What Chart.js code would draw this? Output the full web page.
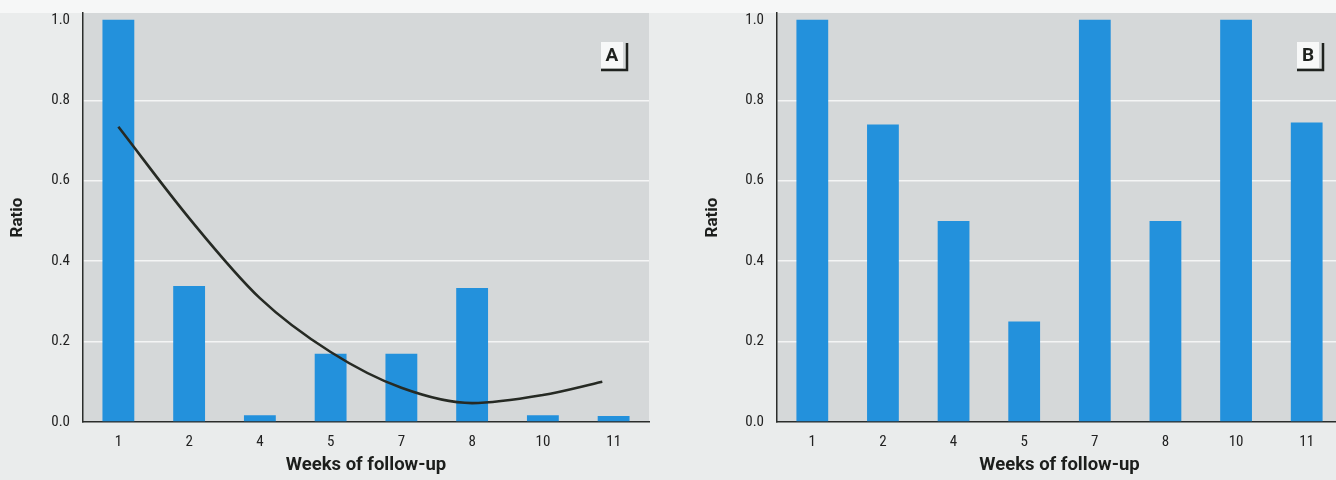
<!DOCTYPE html>
<html>
<head>
<meta charset="utf-8">
<script src="https://cdn.jsdelivr.net/npm/chart.js@4.4.1/dist/chart.umd.min.js"></script>
<style>
  html, body { margin:0; padding:0; }
  body { width:1336px; height:480px; overflow:hidden; background:#eaecec; position:relative; }
  #topstrip { position:absolute; left:0; top:0; width:1336px; height:13px; background:#f6f7f7; }
  canvas { position:absolute; top:0; }
  #ca { left:0; }
  #cb { left:668px; }
</style>
</head>
<body>
<div id="topstrip"></div>
<canvas id="ca" width="668" height="480"></canvas>
<canvas id="cb" width="680" height="480"></canvas>
<script>
// ---- data ----
const weeks = ['1', '2', '4', '5', '7', '8', '10', '11'];
const yTicks = [0, 0.2, 0.4, 0.6, 0.8, 1.0];
const ratioA = [1.0, 0.338, 0.017, 0.17, 0.17, 0.333, 0.017, 0.015];
const ratioB = [1.0, 0.74, 0.5, 0.25, 1.0, 0.5, 1.0, 0.745];
// fitted trend in panel A (x = category index position)
const trendX = [0, 1, 2, 3, 4, 5, 6, 6.84];
const trendY = [0.734, 0.507, 0.308, 0.174, 0.085, 0.047, 0.067, 0.10];
const xTitle = 'Weeks of follow-up';
const yTitle = 'Ratio';

const TICK_FONT = "'Liberation Sans Narrow', 'Roboto Condensed', Roboto, 'Liberation Sans', sans-serif";
const TITLE_FONT = "Roboto, 'Liberation Sans', sans-serif";
const BLUE = '#2391dc';
const PLOT_BG = '#d5d8d9';

const bgPlugin = {
  id: 'plotBg',
  beforeDraw(chart) {
    const {ctx, chartArea: a} = chart;
    ctx.save();
    ctx.fillStyle = PLOT_BG;
    ctx.fillRect(a.left, a.top, a.right - a.left, a.bottom - a.top);
    ctx.restore();
  }
};

const panelLabel = {
  id: 'panelLabel',
  afterDraw(chart, args, o) {
    const ctx = chart.ctx;
    ctx.save();
    ctx.fillStyle = '#f7f8f8';
    ctx.fillRect(o.x, o.y, o.w, o.h);
    ctx.strokeStyle = '#1f221f';
    ctx.lineWidth = 2.5;
    ctx.beginPath();
    ctx.moveTo(o.x, o.y + o.h + 2);
    ctx.lineTo(o.x + o.w + 4, o.y + o.h + 2);
    ctx.lineTo(o.x + o.w + 4, o.y + 1);
    ctx.stroke();
    ctx.fillStyle = '#1f221f';
    ctx.font = "bold 19px " + TITLE_FONT;
    ctx.textAlign = 'center';
    ctx.textBaseline = 'middle';
    ctx.fillText(o.text, o.x + o.w / 2, o.y + o.h / 2 + 1);
    ctx.restore();
  }
};

function makeOptions(yWidth, yTitlePad, rightPad, label) {
  return {
    responsive: false,
    animation: false,
    layout: { padding: { left: 0, top: 13, right: rightPad, bottom: 0 } },
    plugins: { legend: { display: false }, tooltip: { enabled: false }, panelLabel: label },
    scales: {
      x: {
        type: 'category',
        grid: { display: false, drawTicks: false },
        border: { display: true, color: '#2b2d2b', width: 1.5 },
        ticks: { font: { family: TICK_FONT, size: 15 }, color: '#222', padding: 11, maxRotation: 0 },
        title: { display: true, text: xTitle, font: { family: TITLE_FONT, size: 18.5, weight: 'bold' }, color: '#1c1e1c', padding: { top: 0, bottom: 4 } },
        afterFit(s) { s.height = 58; s.paddingLeft = 0; s.paddingRight = 0; }
      },
      y: {
        min: 0, max: 1.017,
        afterBuildTicks(s) { s.ticks = yTicks.map(v => ({ value: v })); },
        grid: {
          drawTicks: false,
          color: c => (c.tick && c.tick.value > 0.01 && c.tick.value < 0.99) ? 'rgba(246,247,247,0.95)' : 'rgba(0,0,0,0)',
          lineWidth: 1.5
        },
        border: { display: true, color: '#2b2d2b', width: 1.5 },
        ticks: { font: { family: TICK_FONT, size: 15 }, color: '#222', padding: 13, callback: v => Number(v).toFixed(1) },
        title: { display: true, text: yTitle, font: { family: TITLE_FONT, size: 17, weight: 'bold' }, color: '#1c1e1c', padding: { top: yTitlePad, bottom: 0 } },
        afterFit(s) { s.width = yWidth; s.paddingTop = 0; s.paddingBottom = 0; }
      }
    }
  };
}

// Panel A
const optA = makeOptions(83, 8, 19, { text: 'A', x: 601, y: 42, w: 22, h: 26 });
optA.scales.x2 = { type: 'linear', min: -0.5, max: 7.5, offset: false, display: false };
new Chart(document.getElementById('ca'), {
  type: 'bar',
  data: {
    labels: weeks,
    datasets: [
      {
        type: 'line',
        xAxisID: 'x2',
        data: trendX.map((x, i) => ({ x: x, y: trendY[i] })),
        borderColor: '#262a24',
        borderWidth: 2.6,
        pointRadius: 0,
        cubicInterpolationMode: 'monotone',
        fill: false,
        order: 0
      },
      {
        type: 'bar',
        data: ratioA,
        backgroundColor: BLUE,
        borderWidth: 0,
        grouped: false,
        categoryPercentage: 1.0,
        barPercentage: 0.45,
        order: 1
      }
    ]
  },
  options: optA,
  plugins: [bgPlugin, panelLabel]
});

// Panel B
const optB = makeOptions(109, 35, 6, { text: 'B', x: 629, y: 42, w: 22, h: 26 });
new Chart(document.getElementById('cb'), {
  type: 'bar',
  data: {
    labels: weeks,
    datasets: [{
      data: ratioB,
      backgroundColor: BLUE,
      borderWidth: 0,
      categoryPercentage: 1.0,
      barPercentage: 0.45
    }]
  },
  options: optB,
  plugins: [bgPlugin, panelLabel]
});
</script>
</body>
</html>
